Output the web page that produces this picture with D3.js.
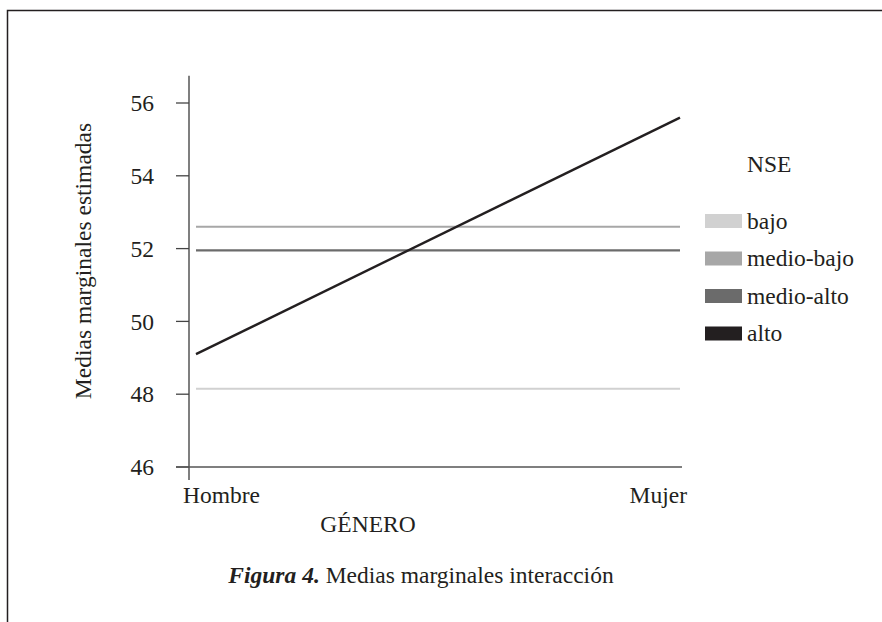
<!DOCTYPE html>
<html>
<head>
<meta charset="utf-8">
<style>
  body { margin: 0; background: #fff; }
  svg text { font-family: "Liberation Serif", "DejaVu Serif", serif; fill: #231f20; }
</style>
</head>
<body>
<svg id="svg"></svg>
<script src="https://cdn.jsdelivr.net/npm/d3@7"></script>
<script>
  // data
  var genero = ["Hombre", "Mujer"];
  var nse = ["bajo", "medio-bajo", "medio-alto", "alto"];
  var bajo = [48.15, 48.15];
  var medioBajo = [52.6, 52.6];
  var medioAlto = [51.95, 51.95];
  var alto = [49.1, 55.6];
  var yTicks = [46, 48, 50, 52, 54, 56];
  var colores = ["#d1d1d1", "#a7a7a7", "#6b6b6b", "#231f20"];

  var width = 882, height = 622;
  var fs = 23.5;
  var svg = d3.select("#svg").attr("width", width).attr("height", height);

  // frame (only top and left edges fall inside the crop)
  svg.append("rect")
    .attr("x", 7.5).attr("y", 10.5)
    .attr("width", 1000).attr("height", 1000)
    .attr("fill", "none").attr("stroke", "#231f20").attr("stroke-width", 1.5);

  var x = d3.scalePoint().domain(genero).range([196, 680]);
  var y = d3.scaleLinear().domain([46, 56]).range([467, 103]);

  var series = [bajo, medioBajo, medioAlto, alto];

  // y axis
  var gy = svg.append("g").attr("transform", "translate(189,0)");
  gy.append("line")
    .attr("x1", 0).attr("x2", 0)
    .attr("y1", y(56.75)).attr("y2", y(46) + 13)
    .attr("stroke", "#555").attr("stroke-width", 1.5);
  gy.selectAll(".tk").data(yTicks).enter().append("line")
    .attr("x1", -13).attr("x2", 0)
    .attr("y1", function (d) { return y(d); })
    .attr("y2", function (d) { return y(d); })
    .attr("stroke", "#444").attr("stroke-width", 1.3);
  gy.selectAll(".lb").data(yTicks).enter().append("text")
    .attr("x", -35).attr("y", function (d) { return y(d); })
    .attr("dy", "0.35em")
    .attr("text-anchor", "end")
    .attr("font-size", fs)
    .text(function (d) { return d; });

  // x axis
  svg.append("line")
    .attr("x1", 176).attr("x2", 682)
    .attr("y1", y(46)).attr("y2", y(46))
    .attr("stroke", "#555").attr("stroke-width", 1.5);
  svg.selectAll(".xl").data(genero).enter().append("text")
    .attr("x", function (d, i) { return i == 0 ? x(d) - 13 : x(d) + 7; })
    .attr("y", 503)
    .attr("text-anchor", function (d, i) { return i == 0 ? "start" : "end"; })
    .attr("font-size", fs)
    .text(function (d) { return d; });

  // lines
  var line = d3.line()
    .x(function (d, i) { return x(genero[i]); })
    .y(function (d) { return y(d); });
  svg.selectAll(".serie").data(series).enter().append("path")
    .attr("d", line)
    .attr("fill", "none")
    .attr("stroke", function (d, i) { return colores[i]; })
    .attr("stroke-width", function (d, i) { return i == 3 ? 2.4 : 2.2; });

  // axis titles
  svg.append("text")
    .attr("transform", "translate(91,261) rotate(-90)")
    .attr("text-anchor", "middle")
    .attr("font-size", fs)
    .text("Medias marginales estimadas");
  svg.append("text")
    .attr("x", 368).attr("y", 532)
    .attr("text-anchor", "middle")
    .attr("font-size", fs)
    .text("GÉNERO");

  // legend
  svg.append("text")
    .attr("x", 747).attr("y", 172)
    .attr("font-size", fs)
    .text("NSE");
  var leg = svg.selectAll(".leg").data(nse).enter().append("g")
    .attr("transform", function (d, i) { return "translate(705," + (221 + i * 37.5) + ")"; });
  leg.append("rect")
    .attr("x", 0).attr("y", -7).attr("width", 37).attr("height", 14)
    .attr("fill", function (d, i) { return colores[i]; });
  leg.append("text")
    .attr("x", 42).attr("y", 0).attr("dy", "0.32em")
    .attr("font-size", fs)
    .text(function (d) { return d; });

  // caption
  var cap = svg.append("text")
    .attr("x", 421).attr("y", 583)
    .attr("text-anchor", "middle")
    .attr("font-size", fs);
  cap.append("tspan").attr("font-weight", "bold").attr("font-style", "italic").text("Figura 4.");
  cap.append("tspan").text(" Medias marginales interacción");
</script>
</body>
</html>
